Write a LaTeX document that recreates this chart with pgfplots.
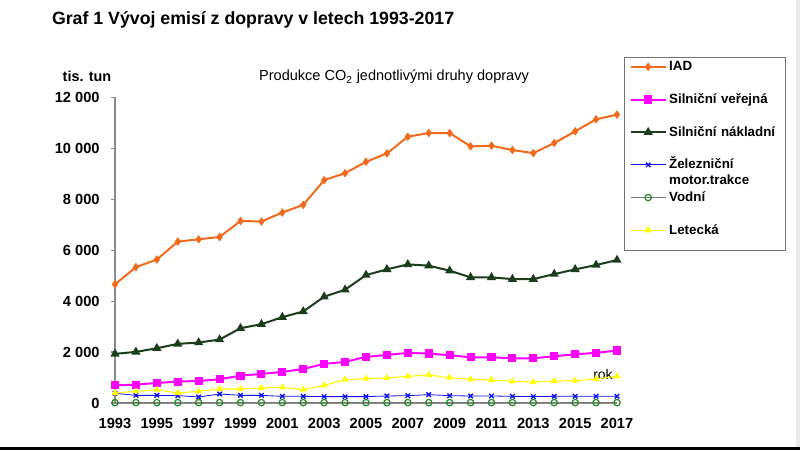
\documentclass[border=0pt]{standalone}
\usepackage{pgfplots}
\pgfplotsset{compat=1.18}
\usepackage{fontspec}
\setmainfont{Liberation Sans}
\definecolor{iad}{HTML}{F26B1D}
\definecolor{verej}{HTML}{FF00FF}
\definecolor{nakl}{HTML}{1B3D1B}
\definecolor{zel}{HTML}{1010F0}
\definecolor{vodm}{HTML}{1E8A1E}
\definecolor{vodl}{HTML}{7A7A7A}
\definecolor{let}{HTML}{FFFF00}
\definecolor{axgray}{HTML}{8C8C8C}
\begin{document}
\begin{tikzpicture}
\path (0pt,0pt) rectangle (600pt,337.5pt);
\fill[black] (0pt,0pt) rectangle (600pt,2.25pt);
\fill[black!8] (597pt,2.25pt) rectangle (600pt,337.5pt);
\node[anchor=west,font=\fontsize{13.3}{16}\selectfont\bfseries] at (35.5pt,322.5pt) {Graf 1 Vývoj emisí z dopravy v letech 1993-2017};
\node[font=\fontsize{10.8}{13}\selectfont\bfseries] at (65.25pt,280.5pt) {tis. tun};
\node[font=\fontsize{10.9}{13}\selectfont] at (295.5pt,279.75pt) {Produkce CO\textsubscript{2} jednotlivými druhy dopravy};
\node[font=\fontsize{10.5}{13}\selectfont] at (452.25pt,57pt) {rok};
\begin{axis}[
  at={(86.25pt,35.25pt)}, anchor=south west,
  scale only axis, width=376.5pt, height=229.35pt,
  xmin=1993, xmax=2017, ymin=0, ymax=12000,
  scaled y ticks=false, scaled x ticks=false,
  axis x line*=bottom, axis y line*=left,
  axis line style={draw=axgray, line width=1.1pt},
  xtick={1993,1995,...,2017},
  xticklabels={1993,1995,1997,1999,2001,2003,2005,2007,2009,2011,2013,2015,2017},
  ytick={0,2000,4000,6000,8000,10000,12000},
  yticklabels={0,2 000,4 000,6 000,8 000,10 000,12 000},
  tick label style={font=\fontsize{11}{13}\selectfont\bfseries, black},
  xtick style={draw=none},
  ytick style={draw=axgray, line width=0.8pt},
  tick align=outside, major tick length=3pt,
  xticklabel style={yshift=-5pt},
  yticklabel style={xshift=-5pt},
  legend cell align=left,
  legend style={at={(rel axis cs:1.0139,1.1315)}, anchor=north west,
    draw=black!55, line width=0.8pt, inner xsep=4pt, inner ysep=2pt,
    font=\fontsize{10}{12}\selectfont\bfseries,
    row sep=14.5pt,
    nodes={text height=8pt, text depth=2pt, inner ysep=0pt, inner xsep=2pt, text width=81pt}},
  legend image code/.code={\draw[mark repeat=2,mark phase=2] plot coordinates {(0pt,0pt)(13pt,0pt)(26pt,0pt)};},
]
\addplot[iad, line width=1.5pt, mark=diamond*, mark size=2pt] coordinates {
(1993,4654)(1994,5330)(1995,5630)(1996,6333)(1997,6424)(1998,6515)(1999,7144)(2000,7120)(2001,7475)(2002,7775)(2003,8745)(2004,9020)(2005,9465)(2006,9795)(2007,10450)(2008,10594)(2009,10594)(2010,10070)(2011,10095)(2012,9925)(2013,9807)(2014,10200)(2015,10660)(2016,11133)(2017,11315)};
\addlegendentry{IAD}
\addplot[verej, line width=1.5pt, mark=square*, mark size=2.3pt] coordinates {
(1993,693)(1994,720)(1995,787)(1996,838)(1997,865)(1998,929)(1999,1074)(2000,1141)(2001,1220)(2002,1337)(2003,1534)(2004,1613)(2005,1810)(2006,1885)(2007,1967)(2008,1940)(2009,1873)(2010,1795)(2011,1795)(2012,1755)(2013,1755)(2014,1834)(2015,1913)(2016,1967)(2017,2058)};
\addlegendentry{Silniční veřejná}
\addplot[nakl, line width=1.5pt, mark=triangle*, mark size=2.5pt] coordinates {
(1993,1928)(1994,2006)(1995,2148)(1996,2321)(1997,2372)(1998,2490)(1999,2935)(2000,3092)(2001,3368)(2002,3592)(2003,4170)(2004,4445)(2005,5020)(2006,5244)(2007,5440)(2008,5389)(2009,5193)(2010,4929)(2011,4929)(2012,4862)(2013,4862)(2014,5059)(2015,5244)(2016,5413)(2017,5610)};
\addlegendentry{Silniční nákladní}
\addplot[zel, line width=0.6pt, mark=x, mark size=2.4pt, mark options={line width=1pt}] coordinates {
(1993,380)(1994,300)(1995,300)(1996,290)(1997,236)(1998,354)(1999,300)(2000,300)(2001,262)(2002,262)(2003,250)(2004,250)(2005,250)(2006,275)(2007,288)(2008,327)(2009,288)(2010,275)(2011,275)(2012,262)(2013,250)(2014,262)(2015,262)(2016,262)(2017,262)};
\addlegendentry{\vtop{\hbox{Železniční}\hbox{motor.trakce}}}
\addplot[vodl, line width=1.1pt, mark=o, mark size=2.4pt, mark options={draw=vodm, fill=white, line width=0.9pt}] coordinates {
(1993,15)(1994,15)(1995,15)(1996,15)(1997,15)(1998,15)(1999,15)(2000,15)(2001,15)(2002,15)(2003,15)(2004,15)(2005,15)(2006,15)(2007,15)(2008,15)(2009,15)(2010,15)(2011,15)(2012,15)(2013,15)(2014,15)(2015,15)(2016,15)(2017,15)};
\addlegendentry{Vodní}
\addplot[let, line width=0.8pt, mark=triangle*, mark size=2.3pt,
  legend image code/.code={\draw[mark repeat=2,mark phase=2] plot coordinates {(0pt,0pt)(13pt,0pt)(26pt,0pt)};\path (0pt,-13pt);}] coordinates {
(1993,393)(1994,457)(1995,523)(1996,393)(1997,457)(1998,550)(1999,550)(2000,590)(2001,615)(2002,523)(2003,693)(2004,917)(2005,956)(2006,985)(2007,1048)(2008,1101)(2009,995)(2010,929)(2011,904)(2012,851)(2013,825)(2014,865)(2015,877)(2016,943)(2017,1048)};
\addlegendentry{Letecká}
\end{axis}
\end{tikzpicture}
\end{document}
